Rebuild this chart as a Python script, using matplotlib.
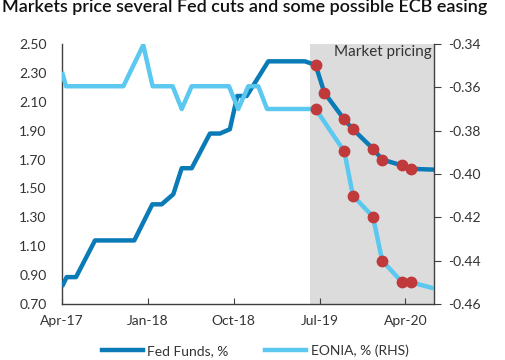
import matplotlib
matplotlib.use("Agg")
import matplotlib.pyplot as plt
from matplotlib.lines import Line2D

plt.rcParams['font.family'] = ['Lato', 'DejaVu Sans']

# months since Apr-17
fed_month = [0, 0.49, 1.47, 3.46, 7.58, 9.47, 10.45, 11.67, 12.55, 13.6, 15.51,
             16.56, 17.6, 18.38, 19.36, 21.63, 25.47, 26.59, 27.5, 29.56, 30.5,
             32.6, 33.57, 35.6, 36.58, 39]
fed_vals = [0.82, 0.886, 0.886, 1.14, 1.14, 1.39, 1.39, 1.46, 1.64, 1.64, 1.88,
            1.88, 1.91, 2.14, 2.14, 2.38, 2.38, 2.354, 2.164, 1.98, 1.91,
            1.775, 1.70, 1.66, 1.636, 1.63]
fed_dot_idx = list(range(17, 25))

eonia_month = [0, 0.42, 6.43, 8.52, 9.5, 11.6, 12.55, 13.6, 17.5, 18.48, 19.53,
               20.58, 21.5, 26.59, 29.6, 30.5, 32.6, 33.57, 35.6, 36.58, 39]
eonia_vals = [-0.3528, -0.3595, -0.3595, -0.3405, -0.3595, -0.3595, -0.370,
              -0.3595, -0.3595, -0.370, -0.3595, -0.3595, -0.370, -0.370,
              -0.3896, -0.410, -0.4197, -0.440, -0.4497, -0.45, -0.4528]
eonia_dot_idx = list(range(13, 20))

tick_months = [0, 9, 18, 27, 36]
tick_labels = ['Apr-17', 'Jan-18', 'Oct-18', 'Jul-19', 'Apr-20']
pricing_start = 26.0

fed_col = '#0a7bb6'
eonia_col = '#5bc8f0'
dot_col = '#c0393b'
spine_col = '#404040'
txt_col = '#333333'

fig = plt.figure(figsize=(5.06, 3.6), dpi=100)
ax = fig.add_axes([0.1225, 0.1556, 0.7352, 0.7222])
ax2 = ax.twinx()

ax.axvspan(pricing_start, 39, color='#dcdcdc', lw=0, zorder=0)

ax.plot(fed_month, fed_vals, color=fed_col, lw=3.2, solid_capstyle='butt', zorder=3)
ax.plot([fed_month[i] for i in fed_dot_idx], [fed_vals[i] for i in fed_dot_idx],
        'o', color=dot_col, ms=7.5, zorder=4)

ax2.plot(eonia_month, eonia_vals, color=eonia_col, lw=3.2, solid_capstyle='butt', zorder=3)
ax2.plot([eonia_month[i] for i in eonia_dot_idx], [eonia_vals[i] for i in eonia_dot_idx],
         'o', color=dot_col, ms=7.5, zorder=4)

ax.set_xlim(0, 39)
ax.set_ylim(0.70, 2.50)
ax2.set_ylim(-0.46, -0.34)

ax.set_yticks([0.70 + 0.2 * i for i in range(10)])
ax.set_yticklabels(['%.2f' % (0.70 + 0.2 * i) for i in range(10)])
ax2.set_yticks([-0.46 + 0.02 * i for i in range(7)])
ax2.set_yticklabels(['%.2f' % (-0.46 + 0.02 * i) for i in range(7)])
ax.set_xticks(tick_months)
ax.set_xticklabels(tick_labels)

for a in (ax, ax2):
    a.spines['top'].set_visible(False)
    for s in ('left', 'right', 'bottom'):
        a.spines[s].set_color(spine_col)
        a.spines[s].set_linewidth(1)
ax.spines['right'].set_visible(False)
ax2.spines['left'].set_visible(False)
ax2.spines['bottom'].set_visible(False)

ax.tick_params(axis='y', length=0, pad=11, labelsize=10, labelcolor=txt_col)
ax.tick_params(axis='x', direction='in', length=4, color=spine_col, pad=8,
               labelsize=10, labelcolor=txt_col)
ax2.tick_params(axis='y', direction='out', length=5, color=spine_col, pad=5,
                labelsize=10, labelcolor=txt_col)

ax.text(38.8, 2.495, 'Market pricing', ha='right', va='top', fontsize=11,
        color=txt_col, zorder=5)

fig.text(0.004, 1 - 12 / 360, 'Markets price several Fed cuts and some possible ECB easing',
         fontsize=13, fontweight='semibold', color='#111111', va='baseline', ha='left')

handles = [Line2D([], [], color=fed_col, lw=3.2),
           Line2D([], [], color=eonia_col, lw=3.2)]
fig.legend(handles, ['Fed Funds, %', 'EONIA, % (RHS)'], loc='center',
           bbox_to_anchor=(0.504, 0.025), ncol=2, frameon=False, fontsize=10,
           handlelength=3.0, handletextpad=0.3, columnspacing=2.6, labelcolor=txt_col)

fig.savefig('out.png', dpi=100)
